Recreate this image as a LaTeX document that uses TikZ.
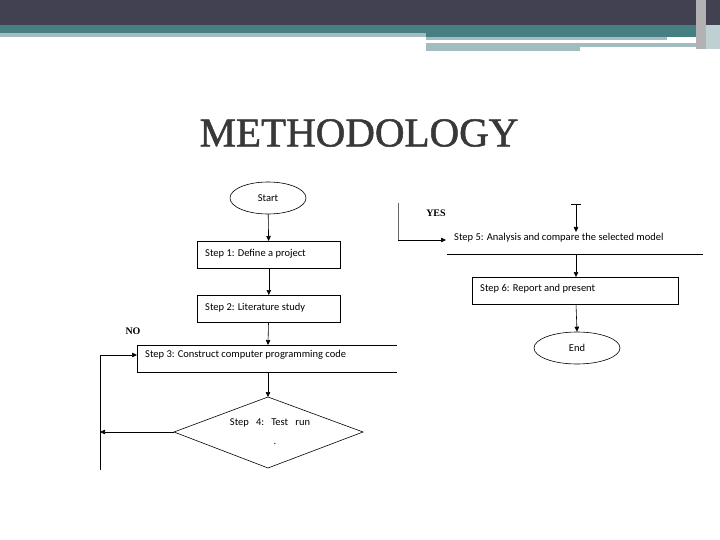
\documentclass[tikz,border=0pt]{standalone}
\usepackage{fontspec}
\setmainfont{Liberation Serif}
\newfontfamily\cf{Carlito}
\newfontfamily\tf[FakeBold=1.2]{Liberation Serif}
\usetikzlibrary{arrows.meta,shapes.geometric}
\definecolor{hdark}{HTML}{414152}
\definecolor{hteal}{HTML}{467F82}
\definecolor{hlight}{HTML}{A3BCBF}
\tikzset{
  ln/.style={draw=black,line width=0.6pt},
  arr/.style={ln,-{Triangle[length=5pt,width=4.5pt]}},
  bx/.style={draw=black,line width=0.6pt,rectangle,anchor=north west,inner sep=0pt},
  lbl/.style={font=\cf\fontsize{10.5}{12}\selectfont,inner sep=0pt},
}
\begin{document}
\begin{tikzpicture}[x=1pt,y=-1pt]
\useasboundingbox (0,0) rectangle (720,540);
\fill[white] (0,0) rectangle (720,540);
% header
\fill[hdark] (0,0) rectangle (720,25);
\fill[hteal] (0,25) rectangle (426,33);
\fill[hteal] (426,25) rectangle (706,37.5);
\fill[hlight] (0,33) rectangle (426,37);
\fill[hlight] (426,37.5) rectangle (667,40.5);
\fill[hlight] (426,43.5) rectangle (580,51);
\fill[hlight] (580,43.5) rectangle (706,47);
\fill[hlight!70] (706,25) rectangle (720,49);
\fill[gray!60] (696,0) rectangle (706,49);
% title
\node[font=\tf\fontsize{41}{46}\selectfont,text=black!78] (title) at (359,133) {METHODOLOGY};
% left flowchart
\node[ellipse,ln,minimum width=76pt,minimum height=32pt,inner sep=0pt,lbl] (start) at (268,198) {Start};
\node[bx,minimum width=143pt,minimum height=27pt] (s1) at (197,241) {};
\node[lbl,anchor=west] at (205,253.5) {Step 1: Define a project};
\node[bx,minimum width=143pt,minimum height=27pt] (s2) at (197,295) {};
\node[lbl,anchor=west] at (205,307.5) {Step 2: Literature study};
\coordinate (s3tl) at (137,345);
\coordinate (s3tr) at (397,345);
\coordinate (s3bl) at (137,372);
\coordinate (s3br) at (397,372);
\draw[ln] (s3tr) -- (s3tl) -- (s3bl) -- (s3br);
\node[lbl,anchor=west] (s3) at (145,355) {Step 3: Construct computer programming code};
\coordinate (dt) at (268,397);
\coordinate (dl) at (174,432);
\coordinate (dr) at (363,432);
\coordinate (db) at (268,468);
\draw[ln] (dt) -- (dr) -- (db) -- (dl) -- cycle;
\node[lbl] (s4) at (270,423) {Step\ \ \ 4:\ \ \ Test\ \ \ run};
\node[lbl] at (275,444) {.};
\draw[arr] (start) -- (s1);
\draw[arr] (s1) -- (s2);
\draw[arr] (s2) -- (268,345);
\coordinate (s3b) at (268,372);
\draw[arr] (s3b) -- (dt);
\coordinate (nol) at (100,432);
\draw[arr] (dl) -- (nol);
\coordinate (vt) at (100,355);
\coordinate (vb) at (100,470);
\draw[ln] (vt) -- (vb);
\draw[arr] (vt) -- (137,355);
\node[font=\bfseries\fontsize{10}{11}\selectfont,inner sep=0pt] (no) at (133,331) {NO};
% right flowchart
\coordinate (yt) at (398,203);
\coordinate (yb) at (398,240);
\draw[ln,draw=black!60] (yt) -- (yb);
\draw[arr] (yb) -- (446,240);
\node[font=\bfseries\fontsize{10}{11}\selectfont,inner sep=0pt] (yes) at (436,213) {YES};
\node[lbl,anchor=west] (s5) at (454,238) {Step 5: Analysis and compare the selected model};
\coordinate (hl) at (447,254);
\coordinate (hr) at (703,254);
\draw[ln] (hl) -- (hr);
\coordinate (tt) at (576,204);
\draw[ln] (571,204) -- (581,204);
\draw[arr] (tt) -- (576,232);
\node[bx,minimum width=206pt,minimum height=27pt] (s6) at (472,277) {};
\node[lbl,anchor=west] at (480,288.5) {Step 6: Report and present};
\draw[arr] (576,254) -- (576,277);
\node[ellipse,ln,minimum width=86pt,minimum height=32pt,inner sep=0pt,lbl] (end) at (577,348) {End};
\draw[arr] (576,304) -- (end.north);
\end{tikzpicture}
\end{document}
